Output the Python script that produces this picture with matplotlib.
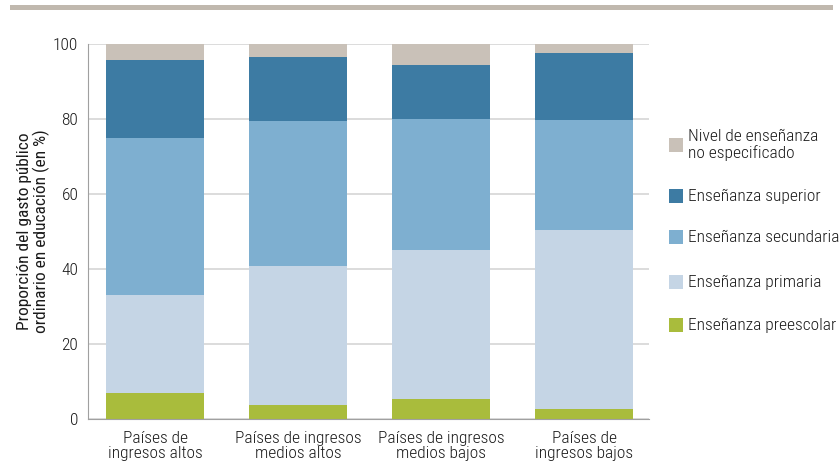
import matplotlib
matplotlib.use("Agg")
import matplotlib.pyplot as plt
from matplotlib.patches import Rectangle
import numpy as np

plt.rcParams['font.family'] = ['Roboto Condensed', 'DejaVu Sans']
plt.rcParams['font.weight'] = 'light'

categories = ["Países de\ningresos altos", "Países de ingresos\nmedios altos",
              "Países de ingresos\nmedios bajos", "Países de\ningresos bajos"]
preescolar = [7.0, 3.7, 5.3, 2.7]
primaria = [26.1, 37.1, 39.8, 47.7]
secundaria = [41.8, 38.7, 34.9, 29.3]
superior = [20.8, 17.0, 14.4, 17.9]
no_especificado = [4.3, 3.5, 5.6, 2.4]

series = [
    ("Enseñanza preescolar", preescolar, "#a9bc3c"),
    ("Enseñanza primaria", primaria, "#c5d5e5"),
    ("Enseñanza secundaria", secundaria, "#7eafd0"),
    ("Enseñanza superior", superior, "#3d7ba3"),
    ("Nivel de enseñanza\nno especificado", no_especificado, "#c9c1b8"),
]

fig = plt.figure(figsize=(8.4, 4.61), dpi=100)
ax = fig.add_axes([0.1048, 0.0911, 0.668, 0.8135])

x = np.arange(len(categories))
bottom = np.zeros(len(categories))
for name, vals, color in series:
    ax.bar(x, vals, bottom=bottom, width=0.685, color=color, zorder=2)
    bottom += np.array(vals)

ax.set_xlim(-0.469, 3.455)
ax.set_ylim(0, 100)
ax.set_yticks([0, 20, 40, 60, 80, 100])
ax.yaxis.grid(True, color="#d9d9d9", linewidth=1.3, zorder=0)
ax.set_axisbelow(True)
for s in ["top", "right"]:
    ax.spines[s].set_visible(False)
ax.spines["left"].set_color("#a0a0a0")
ax.spines["bottom"].set_color("#a0a0a0")
ax.tick_params(axis="y", length=0, labelsize=12.5, colors="#1a1a1a", pad=7)
ax.tick_params(axis="x", length=0, labelsize=12.5, colors="#1a1a1a", pad=8.5)
ax.set_xticks(x)
ax.set_xticklabels(categories, linespacing=1.05)
ax.set_ylabel("Proporción del gasto público\nordinario en educación (en %)",
              fontsize=12.5, color="#1a1a1a", labelpad=2, linespacing=1.05)

# top decorative band
fig.add_artist(Rectangle((10 / 840, 1 - 10 / 461), 823 / 840, 5 / 461,
                         transform=fig.transFigure, color="#c0b8ae", lw=0))

# legend drawn from the series list (top entry first)
legend_y = [145, 196, 237, 282, 325]
for (name, vals, color), yy in zip(series[::-1], legend_y):
    fig.add_artist(Rectangle((669 / 840, 1 - (yy + 7) / 461), 14 / 840, 14 / 461,
                             transform=fig.transFigure, color=color, lw=0))
    fig.text(688 / 840, 1 - yy / 461, name, fontsize=12.5, color="#1a1a1a",
             va="center", ha="left", linespacing=1.1)

fig.savefig("out.png", dpi=100)
